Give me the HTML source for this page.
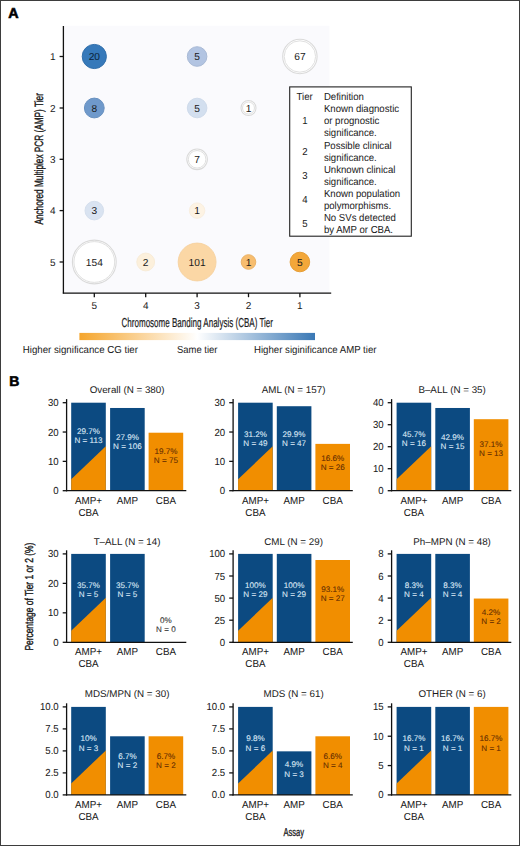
<!DOCTYPE html>
<html><head><meta charset="utf-8"><style>
html,body{margin:0;padding:0;background:#fff;width:520px;height:846px;overflow:hidden}
svg{display:block;font-family:"Liberation Sans", sans-serif;text-rendering:geometricPrecision}
</style></head><body>
<svg width="520" height="846" viewBox="0 0 520 846">
<text x="8.20" y="17.90" font-size="14.3" text-anchor="start" fill="#000" font-weight="bold" stroke="#000" stroke-width="0.6" >A</text>
<rect x="63.40" y="25.80" width="266.00" height="267.00" fill="#fafafd"/>
<circle cx="94.3" cy="56.5" r="12.10" fill="#3679ba" stroke="#316fab" stroke-width="1"/>
<text x="94.30" y="60.10" font-size="10.2" text-anchor="middle" fill="#0a1f38" font-weight="normal" >20</text>
<circle cx="197.1" cy="56.5" r="9.80" fill="#b2c4e2" stroke="#a9bad6" stroke-width="1"/>
<text x="197.10" y="60.10" font-size="10.2" text-anchor="middle" fill="#1a1a1a" font-weight="normal" >5</text>
<circle cx="299.9" cy="56.5" r="17.20" fill="#ffffff" stroke="#dadada" stroke-width="1.1"/>
<circle cx="299.9" cy="56.5" r="15.70" fill="none" stroke="#e0e0e0" stroke-width="1.0"/>
<text x="299.90" y="60.10" font-size="10.2" text-anchor="middle" fill="#222" font-weight="normal" >67</text>
<circle cx="94.3" cy="108.0" r="9.90" fill="#6f99cb" stroke="#6991c0" stroke-width="1"/>
<text x="94.30" y="111.60" font-size="10.2" text-anchor="middle" fill="#1a1a1a" font-weight="normal" >8</text>
<circle cx="197.1" cy="108.0" r="9.80" fill="#d3dfef" stroke="#cfdbeb" stroke-width="1"/>
<text x="197.10" y="111.60" font-size="10.2" text-anchor="middle" fill="#1a1a1a" font-weight="normal" >5</text>
<circle cx="248.5" cy="108.0" r="7.50" fill="#ffffff" stroke="#dadada" stroke-width="1.1"/>
<circle cx="248.5" cy="108.0" r="6.00" fill="none" stroke="#e0e0e0" stroke-width="1.0"/>
<text x="248.50" y="111.60" font-size="10.2" text-anchor="middle" fill="#222" font-weight="normal" >1</text>
<circle cx="197.1" cy="159.3" r="10.30" fill="#ffffff" stroke="#dadada" stroke-width="1.1"/>
<circle cx="197.1" cy="159.3" r="8.80" fill="none" stroke="#e0e0e0" stroke-width="1.0"/>
<text x="197.10" y="162.90" font-size="10.2" text-anchor="middle" fill="#222" font-weight="normal" >7</text>
<circle cx="94.3" cy="210.6" r="9.30" fill="#d9e3f1" stroke="#d5dfed" stroke-width="1"/>
<text x="94.30" y="214.20" font-size="10.2" text-anchor="middle" fill="#1a1a1a" font-weight="normal" >3</text>
<circle cx="197.1" cy="210.6" r="7.70" fill="#fdf3e4" stroke="#f9efe0" stroke-width="1"/>
<text x="197.10" y="214.20" font-size="10.2" text-anchor="middle" fill="#1a1a1a" font-weight="normal" >1</text>
<circle cx="94.3" cy="262.0" r="21.90" fill="#ffffff" stroke="#dadada" stroke-width="1.1"/>
<circle cx="94.3" cy="262.0" r="20.40" fill="none" stroke="#e0e0e0" stroke-width="1.0"/>
<text x="94.30" y="265.60" font-size="10.2" text-anchor="middle" fill="#222" font-weight="normal" >154</text>
<circle cx="145.7" cy="262.0" r="8.90" fill="#fcf0dc" stroke="#f8ecd8" stroke-width="1"/>
<text x="145.70" y="265.60" font-size="10.2" text-anchor="middle" fill="#1a1a1a" font-weight="normal" >2</text>
<circle cx="197.1" cy="262.0" r="18.90" fill="#fbd7a5" stroke="#f7d3a2" stroke-width="1"/>
<text x="197.10" y="265.60" font-size="10.2" text-anchor="middle" fill="#1a1a1a" font-weight="normal" >101</text>
<circle cx="248.5" cy="262.0" r="7.30" fill="#f7bd6f" stroke="#eab369" stroke-width="1"/>
<text x="248.50" y="265.60" font-size="10.2" text-anchor="middle" fill="#1a1a1a" font-weight="normal" >1</text>
<circle cx="299.9" cy="262.0" r="9.80" fill="#f3a739" stroke="#e69e36" stroke-width="1"/>
<text x="299.90" y="265.60" font-size="10.2" text-anchor="middle" fill="#1a1a1a" font-weight="normal" >5</text>
<line x1="63.40" y1="26.00" x2="63.40" y2="293.60" stroke="#111" stroke-width="1.3"/>
<line x1="62.80" y1="293.20" x2="331.20" y2="293.20" stroke="#111" stroke-width="1.2"/>
<line x1="59.60" y1="56.50" x2="63.40" y2="56.50" stroke="#111" stroke-width="1.3"/>
<text x="52.80" y="60.00" font-size="10" text-anchor="middle" fill="#1a1a1a" font-weight="normal" >1</text>
<line x1="59.60" y1="108.00" x2="63.40" y2="108.00" stroke="#111" stroke-width="1.3"/>
<text x="52.80" y="111.50" font-size="10" text-anchor="middle" fill="#1a1a1a" font-weight="normal" >2</text>
<line x1="59.60" y1="159.30" x2="63.40" y2="159.30" stroke="#111" stroke-width="1.3"/>
<text x="52.80" y="162.80" font-size="10" text-anchor="middle" fill="#1a1a1a" font-weight="normal" >3</text>
<line x1="59.60" y1="210.60" x2="63.40" y2="210.60" stroke="#111" stroke-width="1.3"/>
<text x="52.80" y="214.10" font-size="10" text-anchor="middle" fill="#1a1a1a" font-weight="normal" >4</text>
<line x1="59.60" y1="262.00" x2="63.40" y2="262.00" stroke="#111" stroke-width="1.3"/>
<text x="52.80" y="265.50" font-size="10" text-anchor="middle" fill="#1a1a1a" font-weight="normal" >5</text>
<line x1="94.30" y1="293.00" x2="94.30" y2="297.20" stroke="#111" stroke-width="1.3"/>
<text x="94.30" y="309.40" font-size="10" text-anchor="middle" fill="#1a1a1a" font-weight="normal" >5</text>
<line x1="145.70" y1="293.00" x2="145.70" y2="297.20" stroke="#111" stroke-width="1.3"/>
<text x="145.70" y="309.40" font-size="10" text-anchor="middle" fill="#1a1a1a" font-weight="normal" >4</text>
<line x1="197.10" y1="293.00" x2="197.10" y2="297.20" stroke="#111" stroke-width="1.3"/>
<text x="197.10" y="309.40" font-size="10" text-anchor="middle" fill="#1a1a1a" font-weight="normal" >3</text>
<line x1="248.50" y1="293.00" x2="248.50" y2="297.20" stroke="#111" stroke-width="1.3"/>
<text x="248.50" y="309.40" font-size="10" text-anchor="middle" fill="#1a1a1a" font-weight="normal" >2</text>
<line x1="299.90" y1="293.00" x2="299.90" y2="297.20" stroke="#111" stroke-width="1.3"/>
<text x="299.90" y="309.40" font-size="10" text-anchor="middle" fill="#1a1a1a" font-weight="normal" >1</text>
<text x="121.50" y="327.20" font-size="13" text-anchor="start" fill="#1a1a1a" font-weight="normal" stroke="#1a1a1a" stroke-width="0.2" textLength="151.5" lengthAdjust="spacingAndGlyphs">Chromosome Banding Analysis (CBA) Tier</text>
<text x="0" y="0" font-size="12" fill="#1a1a1a" stroke="#1a1a1a" stroke-width="0.4" transform="translate(42.6,224.6) rotate(-90)" textLength="131.5" lengthAdjust="spacingAndGlyphs">Anchored Multiplex PCR (AMP) Tier</text>
<rect x="289.7" y="86.9" width="121.6" height="149.3" fill="#fff" stroke="#222" stroke-width="1.1"/>
<text x="0" y="0" transform="translate(323.90,100.30) scale(1.0,1.06)" font-size="9.6" text-anchor="start" fill="#1a1a1a" font-weight="normal" stroke="#1a1a1a" stroke-width="0.02" >Definition</text>
<text x="0" y="0" transform="translate(323.90,112.36) scale(1.0,1.06)" font-size="9.6" text-anchor="start" fill="#1a1a1a" font-weight="normal" stroke="#1a1a1a" stroke-width="0.02" >Known diagnostic</text>
<text x="0" y="0" transform="translate(323.90,124.42) scale(1.0,1.06)" font-size="9.6" text-anchor="start" fill="#1a1a1a" font-weight="normal" stroke="#1a1a1a" stroke-width="0.02" >or prognostic</text>
<text x="0" y="0" transform="translate(323.90,136.48) scale(1.0,1.06)" font-size="9.6" text-anchor="start" fill="#1a1a1a" font-weight="normal" stroke="#1a1a1a" stroke-width="0.02" >significance.</text>
<text x="0" y="0" transform="translate(323.90,148.54) scale(1.0,1.06)" font-size="9.6" text-anchor="start" fill="#1a1a1a" font-weight="normal" stroke="#1a1a1a" stroke-width="0.02" >Possible clinical</text>
<text x="0" y="0" transform="translate(323.90,160.60) scale(1.0,1.06)" font-size="9.6" text-anchor="start" fill="#1a1a1a" font-weight="normal" stroke="#1a1a1a" stroke-width="0.02" >significance.</text>
<text x="0" y="0" transform="translate(323.90,172.66) scale(1.0,1.06)" font-size="9.6" text-anchor="start" fill="#1a1a1a" font-weight="normal" stroke="#1a1a1a" stroke-width="0.02" >Unknown clinical</text>
<text x="0" y="0" transform="translate(323.90,184.72) scale(1.0,1.06)" font-size="9.6" text-anchor="start" fill="#1a1a1a" font-weight="normal" stroke="#1a1a1a" stroke-width="0.02" >significance.</text>
<text x="0" y="0" transform="translate(323.90,196.78) scale(1.0,1.06)" font-size="9.6" text-anchor="start" fill="#1a1a1a" font-weight="normal" stroke="#1a1a1a" stroke-width="0.02" >Known population</text>
<text x="0" y="0" transform="translate(323.90,208.84) scale(1.0,1.06)" font-size="9.6" text-anchor="start" fill="#1a1a1a" font-weight="normal" stroke="#1a1a1a" stroke-width="0.02" >polymorphisms.</text>
<text x="0" y="0" transform="translate(323.90,220.90) scale(1.0,1.06)" font-size="9.6" text-anchor="start" fill="#1a1a1a" font-weight="normal" stroke="#1a1a1a" stroke-width="0.02" >No SVs detected</text>
<text x="0" y="0" transform="translate(323.90,232.96) scale(1.0,1.06)" font-size="9.6" text-anchor="start" fill="#1a1a1a" font-weight="normal" stroke="#1a1a1a" stroke-width="0.02" >by AMP or CBA.</text>
<text x="0" y="0" transform="translate(296.60,100.30) scale(1.0,1.06)" font-size="9.6" text-anchor="start" fill="#1a1a1a" font-weight="normal" stroke="#1a1a1a" stroke-width="0.02" >Tier</text>
<text x="0" y="0" transform="translate(304.80,124.42) scale(1.0,1.06)" font-size="9.6" text-anchor="middle" fill="#1a1a1a" font-weight="normal" stroke="#1a1a1a" stroke-width="0.02" >1</text>
<text x="0" y="0" transform="translate(304.80,154.57) scale(1.0,1.06)" font-size="9.6" text-anchor="middle" fill="#1a1a1a" font-weight="normal" stroke="#1a1a1a" stroke-width="0.02" >2</text>
<text x="0" y="0" transform="translate(304.80,178.69) scale(1.0,1.06)" font-size="9.6" text-anchor="middle" fill="#1a1a1a" font-weight="normal" stroke="#1a1a1a" stroke-width="0.02" >3</text>
<text x="0" y="0" transform="translate(304.80,202.81) scale(1.0,1.06)" font-size="9.6" text-anchor="middle" fill="#1a1a1a" font-weight="normal" stroke="#1a1a1a" stroke-width="0.02" >4</text>
<text x="0" y="0" transform="translate(304.80,226.93) scale(1.0,1.06)" font-size="9.6" text-anchor="middle" fill="#1a1a1a" font-weight="normal" stroke="#1a1a1a" stroke-width="0.02" >5</text>
<defs><linearGradient id="gb" x1="0" x2="1" y1="0" y2="0"><stop offset="0" stop-color="#f5a52c"/><stop offset="0.5" stop-color="#ffffff"/><stop offset="1" stop-color="#3a78b5"/></linearGradient></defs>
<rect x="79.40" y="332.90" width="235.60" height="7.20" fill="url(#gb)"/>
<text x="22.80" y="352.70" font-size="10.2" text-anchor="start" fill="#1a1a1a" font-weight="normal" textLength="115.1" lengthAdjust="spacingAndGlyphs">Higher significance CG tier</text>
<text x="177.00" y="352.70" font-size="10.2" text-anchor="start" fill="#1a1a1a" font-weight="normal" textLength="40.4" lengthAdjust="spacingAndGlyphs">Same tier</text>
<text x="254.00" y="352.70" font-size="10.2" text-anchor="start" fill="#1a1a1a" font-weight="normal" textLength="122.5" lengthAdjust="spacingAndGlyphs">Higher siginificance AMP tier</text>
<text x="9.20" y="386.30" font-size="14.0" text-anchor="start" fill="#000" font-weight="bold" stroke="#000" stroke-width="0.6" >B</text>
<rect x="71.20" y="402.70" width="34.60" height="88.00" fill="#0c4a81"/>
<polygon points="71.20,479.26 105.80,446.26 105.80,490.70 71.20,490.70" fill="#f18e00"/>
<text x="88.50" y="433.60" font-size="8.1" text-anchor="middle" fill="#dbe7f5" font-weight="normal" stroke="#dbe7f5" stroke-width="0.1" >29.7%</text>
<text x="88.50" y="442.60" font-size="8.1" text-anchor="middle" fill="#dbe7f5" font-weight="normal" stroke="#dbe7f5" stroke-width="0.1" >N = 113</text>
<rect x="110.10" y="407.98" width="34.60" height="82.72" fill="#0c4a81"/>
<text x="127.40" y="440.00" font-size="8.1" text-anchor="middle" fill="#dbe7f5" font-weight="normal" stroke="#dbe7f5" stroke-width="0.1" >27.9%</text>
<text x="127.40" y="448.90" font-size="8.1" text-anchor="middle" fill="#dbe7f5" font-weight="normal" stroke="#dbe7f5" stroke-width="0.1" >N = 106</text>
<rect x="148.60" y="432.71" width="34.60" height="57.99" fill="#f18e00"/>
<text x="165.90" y="453.90" font-size="8.1" text-anchor="middle" fill="#632c00" font-weight="normal" stroke="#632c00" stroke-width="0.08" >19.7%</text>
<text x="165.90" y="462.70" font-size="8.1" text-anchor="middle" fill="#632c00" font-weight="normal" stroke="#632c00" stroke-width="0.08" >N = 75</text>
<line x1="66.60" y1="399.10" x2="66.60" y2="491.30" stroke="#111" stroke-width="1.3"/>
<line x1="66.00" y1="490.70" x2="186.30" y2="490.70" stroke="#111" stroke-width="1.3"/>
<line x1="62.70" y1="490.70" x2="66.60" y2="490.70" stroke="#111" stroke-width="1.3"/>
<text x="0" y="0" transform="translate(58.70,494.20) scale(1.0,1.06)" font-size="9.6" text-anchor="end" fill="#1a1a1a" font-weight="normal" stroke="#1a1a1a" stroke-width="0.05" >0</text>
<line x1="62.70" y1="461.37" x2="66.60" y2="461.37" stroke="#111" stroke-width="1.3"/>
<text x="0" y="0" transform="translate(58.70,464.87) scale(1.0,1.06)" font-size="9.6" text-anchor="end" fill="#1a1a1a" font-weight="normal" stroke="#1a1a1a" stroke-width="0.05" >10</text>
<line x1="62.70" y1="432.03" x2="66.60" y2="432.03" stroke="#111" stroke-width="1.3"/>
<text x="0" y="0" transform="translate(58.70,435.53) scale(1.0,1.06)" font-size="9.6" text-anchor="end" fill="#1a1a1a" font-weight="normal" stroke="#1a1a1a" stroke-width="0.05" >20</text>
<line x1="62.70" y1="402.70" x2="66.60" y2="402.70" stroke="#111" stroke-width="1.3"/>
<text x="0" y="0" transform="translate(58.70,406.20) scale(1.0,1.06)" font-size="9.6" text-anchor="end" fill="#1a1a1a" font-weight="normal" stroke="#1a1a1a" stroke-width="0.05" >30</text>
<text x="0" y="0" transform="translate(88.50,503.60) scale(1.0,1.03)" font-size="9.8" text-anchor="middle" fill="#1a1a1a" font-weight="normal" stroke="#1a1a1a" stroke-width="0.05" >AMP+</text>
<text x="0" y="0" transform="translate(127.40,503.60) scale(1.0,1.03)" font-size="9.8" text-anchor="middle" fill="#1a1a1a" font-weight="normal" stroke="#1a1a1a" stroke-width="0.05" >AMP</text>
<text x="0" y="0" transform="translate(165.90,503.60) scale(1.0,1.03)" font-size="9.8" text-anchor="middle" fill="#1a1a1a" font-weight="normal" stroke="#1a1a1a" stroke-width="0.05" >CBA</text>
<text x="0" y="0" transform="translate(88.50,515.50) scale(1.0,1.03)" font-size="9.8" text-anchor="middle" fill="#1a1a1a" font-weight="normal" stroke="#1a1a1a" stroke-width="0.05" >CBA</text>
<text x="127.10" y="392.70" font-size="9.8" text-anchor="middle" fill="#1a1a1a" font-weight="normal" >Overall (N = 380)</text>
<rect x="238.10" y="402.70" width="34.60" height="88.00" fill="#0c4a81"/>
<polygon points="238.10,479.26 272.70,446.26 272.70,490.70 238.10,490.70" fill="#f18e00"/>
<text x="255.40" y="436.70" font-size="8.1" text-anchor="middle" fill="#dbe7f5" font-weight="normal" stroke="#dbe7f5" stroke-width="0.1" >31.2%</text>
<text x="255.40" y="446.20" font-size="8.1" text-anchor="middle" fill="#dbe7f5" font-weight="normal" stroke="#dbe7f5" stroke-width="0.1" >N = 49</text>
<rect x="276.80" y="406.22" width="34.60" height="84.48" fill="#0c4a81"/>
<text x="294.10" y="436.70" font-size="8.1" text-anchor="middle" fill="#dbe7f5" font-weight="normal" stroke="#dbe7f5" stroke-width="0.1" >29.9%</text>
<text x="294.10" y="446.20" font-size="8.1" text-anchor="middle" fill="#dbe7f5" font-weight="normal" stroke="#dbe7f5" stroke-width="0.1" >N = 47</text>
<rect x="315.40" y="443.88" width="34.60" height="46.82" fill="#f18e00"/>
<text x="332.70" y="460.90" font-size="8.1" text-anchor="middle" fill="#632c00" font-weight="normal" stroke="#632c00" stroke-width="0.08" >16.6%</text>
<text x="332.70" y="470.40" font-size="8.1" text-anchor="middle" fill="#632c00" font-weight="normal" stroke="#632c00" stroke-width="0.08" >N = 26</text>
<line x1="233.10" y1="399.10" x2="233.10" y2="491.30" stroke="#111" stroke-width="1.3"/>
<line x1="232.50" y1="490.70" x2="352.80" y2="490.70" stroke="#111" stroke-width="1.3"/>
<line x1="229.20" y1="490.70" x2="233.10" y2="490.70" stroke="#111" stroke-width="1.3"/>
<text x="0" y="0" transform="translate(225.20,494.20) scale(1.0,1.06)" font-size="9.6" text-anchor="end" fill="#1a1a1a" font-weight="normal" stroke="#1a1a1a" stroke-width="0.05" >0</text>
<line x1="229.20" y1="461.37" x2="233.10" y2="461.37" stroke="#111" stroke-width="1.3"/>
<text x="0" y="0" transform="translate(225.20,464.87) scale(1.0,1.06)" font-size="9.6" text-anchor="end" fill="#1a1a1a" font-weight="normal" stroke="#1a1a1a" stroke-width="0.05" >10</text>
<line x1="229.20" y1="432.03" x2="233.10" y2="432.03" stroke="#111" stroke-width="1.3"/>
<text x="0" y="0" transform="translate(225.20,435.53) scale(1.0,1.06)" font-size="9.6" text-anchor="end" fill="#1a1a1a" font-weight="normal" stroke="#1a1a1a" stroke-width="0.05" >20</text>
<line x1="229.20" y1="402.70" x2="233.10" y2="402.70" stroke="#111" stroke-width="1.3"/>
<text x="0" y="0" transform="translate(225.20,406.20) scale(1.0,1.06)" font-size="9.6" text-anchor="end" fill="#1a1a1a" font-weight="normal" stroke="#1a1a1a" stroke-width="0.05" >30</text>
<text x="0" y="0" transform="translate(255.40,503.60) scale(1.0,1.03)" font-size="9.8" text-anchor="middle" fill="#1a1a1a" font-weight="normal" stroke="#1a1a1a" stroke-width="0.05" >AMP+</text>
<text x="0" y="0" transform="translate(294.10,503.60) scale(1.0,1.03)" font-size="9.8" text-anchor="middle" fill="#1a1a1a" font-weight="normal" stroke="#1a1a1a" stroke-width="0.05" >AMP</text>
<text x="0" y="0" transform="translate(332.70,503.60) scale(1.0,1.03)" font-size="9.8" text-anchor="middle" fill="#1a1a1a" font-weight="normal" stroke="#1a1a1a" stroke-width="0.05" >CBA</text>
<text x="0" y="0" transform="translate(255.40,515.50) scale(1.0,1.03)" font-size="9.8" text-anchor="middle" fill="#1a1a1a" font-weight="normal" stroke="#1a1a1a" stroke-width="0.05" >CBA</text>
<text x="293.60" y="392.70" font-size="9.8" text-anchor="middle" fill="#1a1a1a" font-weight="normal" >AML (N = 157)</text>
<rect x="396.60" y="402.70" width="34.60" height="88.00" fill="#0c4a81"/>
<polygon points="396.60,479.26 431.20,446.26 431.20,490.70 396.60,490.70" fill="#f18e00"/>
<text x="413.90" y="436.70" font-size="8.1" text-anchor="middle" fill="#dbe7f5" font-weight="normal" stroke="#dbe7f5" stroke-width="0.1" >45.7%</text>
<text x="413.90" y="446.20" font-size="8.1" text-anchor="middle" fill="#dbe7f5" font-weight="normal" stroke="#dbe7f5" stroke-width="0.1" >N = 16</text>
<rect x="435.30" y="407.98" width="34.60" height="82.72" fill="#0c4a81"/>
<text x="452.60" y="440.10" font-size="8.1" text-anchor="middle" fill="#dbe7f5" font-weight="normal" stroke="#dbe7f5" stroke-width="0.1" >42.9%</text>
<text x="452.60" y="449.20" font-size="8.1" text-anchor="middle" fill="#dbe7f5" font-weight="normal" stroke="#dbe7f5" stroke-width="0.1" >N = 15</text>
<rect x="473.80" y="419.20" width="34.60" height="71.50" fill="#f18e00"/>
<text x="491.10" y="447.00" font-size="8.1" text-anchor="middle" fill="#632c00" font-weight="normal" stroke="#632c00" stroke-width="0.08" >37.1%</text>
<text x="491.10" y="456.10" font-size="8.1" text-anchor="middle" fill="#632c00" font-weight="normal" stroke="#632c00" stroke-width="0.08" >N = 13</text>
<line x1="391.60" y1="399.10" x2="391.60" y2="491.30" stroke="#111" stroke-width="1.3"/>
<line x1="391.00" y1="490.70" x2="511.30" y2="490.70" stroke="#111" stroke-width="1.3"/>
<line x1="387.70" y1="490.70" x2="391.60" y2="490.70" stroke="#111" stroke-width="1.3"/>
<text x="0" y="0" transform="translate(383.70,494.20) scale(1.0,1.06)" font-size="9.6" text-anchor="end" fill="#1a1a1a" font-weight="normal" stroke="#1a1a1a" stroke-width="0.05" >0</text>
<line x1="387.70" y1="468.70" x2="391.60" y2="468.70" stroke="#111" stroke-width="1.3"/>
<text x="0" y="0" transform="translate(383.70,472.20) scale(1.0,1.06)" font-size="9.6" text-anchor="end" fill="#1a1a1a" font-weight="normal" stroke="#1a1a1a" stroke-width="0.05" >10</text>
<line x1="387.70" y1="446.70" x2="391.60" y2="446.70" stroke="#111" stroke-width="1.3"/>
<text x="0" y="0" transform="translate(383.70,450.20) scale(1.0,1.06)" font-size="9.6" text-anchor="end" fill="#1a1a1a" font-weight="normal" stroke="#1a1a1a" stroke-width="0.05" >20</text>
<line x1="387.70" y1="424.70" x2="391.60" y2="424.70" stroke="#111" stroke-width="1.3"/>
<text x="0" y="0" transform="translate(383.70,428.20) scale(1.0,1.06)" font-size="9.6" text-anchor="end" fill="#1a1a1a" font-weight="normal" stroke="#1a1a1a" stroke-width="0.05" >30</text>
<line x1="387.70" y1="402.70" x2="391.60" y2="402.70" stroke="#111" stroke-width="1.3"/>
<text x="0" y="0" transform="translate(383.70,406.20) scale(1.0,1.06)" font-size="9.6" text-anchor="end" fill="#1a1a1a" font-weight="normal" stroke="#1a1a1a" stroke-width="0.05" >40</text>
<text x="0" y="0" transform="translate(413.90,503.60) scale(1.0,1.03)" font-size="9.8" text-anchor="middle" fill="#1a1a1a" font-weight="normal" stroke="#1a1a1a" stroke-width="0.05" >AMP+</text>
<text x="0" y="0" transform="translate(452.60,503.60) scale(1.0,1.03)" font-size="9.8" text-anchor="middle" fill="#1a1a1a" font-weight="normal" stroke="#1a1a1a" stroke-width="0.05" >AMP</text>
<text x="0" y="0" transform="translate(491.10,503.60) scale(1.0,1.03)" font-size="9.8" text-anchor="middle" fill="#1a1a1a" font-weight="normal" stroke="#1a1a1a" stroke-width="0.05" >CBA</text>
<text x="0" y="0" transform="translate(413.90,515.50) scale(1.0,1.03)" font-size="9.8" text-anchor="middle" fill="#1a1a1a" font-weight="normal" stroke="#1a1a1a" stroke-width="0.05" >CBA</text>
<text x="452.10" y="392.70" font-size="9.8" text-anchor="middle" fill="#1a1a1a" font-weight="normal" >B–ALL (N = 35)</text>
<rect x="71.20" y="553.90" width="34.60" height="88.40" fill="#0c4a81"/>
<polygon points="71.20,630.81 105.80,597.66 105.80,642.30 71.20,642.30" fill="#f18e00"/>
<text x="88.50" y="588.30" font-size="8.1" text-anchor="middle" fill="#dbe7f5" font-weight="normal" stroke="#dbe7f5" stroke-width="0.1" >35.7%</text>
<text x="88.50" y="597.30" font-size="8.1" text-anchor="middle" fill="#dbe7f5" font-weight="normal" stroke="#dbe7f5" stroke-width="0.1" >N = 5</text>
<rect x="110.10" y="553.90" width="34.60" height="88.40" fill="#0c4a81"/>
<text x="127.40" y="588.30" font-size="8.1" text-anchor="middle" fill="#dbe7f5" font-weight="normal" stroke="#dbe7f5" stroke-width="0.1" >35.7%</text>
<text x="127.40" y="597.30" font-size="8.1" text-anchor="middle" fill="#dbe7f5" font-weight="normal" stroke="#dbe7f5" stroke-width="0.1" >N = 5</text>
<text x="165.90" y="622.70" font-size="8.1" text-anchor="middle" fill="#333" font-weight="normal" stroke="#333" stroke-width="0.1" >0%</text>
<text x="165.90" y="632.30" font-size="8.1" text-anchor="middle" fill="#333" font-weight="normal" stroke="#333" stroke-width="0.1" >N = 0</text>
<line x1="66.60" y1="550.30" x2="66.60" y2="642.90" stroke="#111" stroke-width="1.3"/>
<line x1="66.00" y1="642.30" x2="186.30" y2="642.30" stroke="#111" stroke-width="1.3"/>
<line x1="62.70" y1="642.30" x2="66.60" y2="642.30" stroke="#111" stroke-width="1.3"/>
<text x="0" y="0" transform="translate(58.70,645.80) scale(1.0,1.06)" font-size="9.6" text-anchor="end" fill="#1a1a1a" font-weight="normal" stroke="#1a1a1a" stroke-width="0.05" >0</text>
<line x1="62.70" y1="612.83" x2="66.60" y2="612.83" stroke="#111" stroke-width="1.3"/>
<text x="0" y="0" transform="translate(58.70,616.33) scale(1.0,1.06)" font-size="9.6" text-anchor="end" fill="#1a1a1a" font-weight="normal" stroke="#1a1a1a" stroke-width="0.05" >10</text>
<line x1="62.70" y1="583.37" x2="66.60" y2="583.37" stroke="#111" stroke-width="1.3"/>
<text x="0" y="0" transform="translate(58.70,586.87) scale(1.0,1.06)" font-size="9.6" text-anchor="end" fill="#1a1a1a" font-weight="normal" stroke="#1a1a1a" stroke-width="0.05" >20</text>
<line x1="62.70" y1="553.90" x2="66.60" y2="553.90" stroke="#111" stroke-width="1.3"/>
<text x="0" y="0" transform="translate(58.70,557.40) scale(1.0,1.06)" font-size="9.6" text-anchor="end" fill="#1a1a1a" font-weight="normal" stroke="#1a1a1a" stroke-width="0.05" >30</text>
<text x="0" y="0" transform="translate(88.50,655.20) scale(1.0,1.03)" font-size="9.8" text-anchor="middle" fill="#1a1a1a" font-weight="normal" stroke="#1a1a1a" stroke-width="0.05" >AMP+</text>
<text x="0" y="0" transform="translate(127.40,655.20) scale(1.0,1.03)" font-size="9.8" text-anchor="middle" fill="#1a1a1a" font-weight="normal" stroke="#1a1a1a" stroke-width="0.05" >AMP</text>
<text x="0" y="0" transform="translate(165.90,655.20) scale(1.0,1.03)" font-size="9.8" text-anchor="middle" fill="#1a1a1a" font-weight="normal" stroke="#1a1a1a" stroke-width="0.05" >CBA</text>
<text x="0" y="0" transform="translate(88.50,667.10) scale(1.0,1.03)" font-size="9.8" text-anchor="middle" fill="#1a1a1a" font-weight="normal" stroke="#1a1a1a" stroke-width="0.05" >CBA</text>
<text x="127.10" y="545.10" font-size="9.8" text-anchor="middle" fill="#1a1a1a" font-weight="normal" >T–ALL (N = 14)</text>
<rect x="238.10" y="553.90" width="34.60" height="88.40" fill="#0c4a81"/>
<polygon points="238.10,630.81 272.70,597.66 272.70,642.30 238.10,642.30" fill="#f18e00"/>
<text x="255.40" y="588.30" font-size="8.1" text-anchor="middle" fill="#dbe7f5" font-weight="normal" stroke="#dbe7f5" stroke-width="0.1" >100%</text>
<text x="255.40" y="597.30" font-size="8.1" text-anchor="middle" fill="#dbe7f5" font-weight="normal" stroke="#dbe7f5" stroke-width="0.1" >N = 29</text>
<rect x="276.80" y="553.90" width="34.60" height="88.40" fill="#0c4a81"/>
<text x="294.10" y="588.30" font-size="8.1" text-anchor="middle" fill="#dbe7f5" font-weight="normal" stroke="#dbe7f5" stroke-width="0.1" >100%</text>
<text x="294.10" y="597.30" font-size="8.1" text-anchor="middle" fill="#dbe7f5" font-weight="normal" stroke="#dbe7f5" stroke-width="0.1" >N = 29</text>
<rect x="315.40" y="560.00" width="34.60" height="82.30" fill="#f18e00"/>
<text x="332.70" y="592.00" font-size="8.1" text-anchor="middle" fill="#632c00" font-weight="normal" stroke="#632c00" stroke-width="0.08" >93.1%</text>
<text x="332.70" y="601.30" font-size="8.1" text-anchor="middle" fill="#632c00" font-weight="normal" stroke="#632c00" stroke-width="0.08" >N = 27</text>
<line x1="233.10" y1="550.30" x2="233.10" y2="642.90" stroke="#111" stroke-width="1.3"/>
<line x1="232.50" y1="642.30" x2="352.80" y2="642.30" stroke="#111" stroke-width="1.3"/>
<line x1="229.20" y1="642.30" x2="233.10" y2="642.30" stroke="#111" stroke-width="1.3"/>
<text x="0" y="0" transform="translate(225.20,645.80) scale(1.0,1.06)" font-size="9.6" text-anchor="end" fill="#1a1a1a" font-weight="normal" stroke="#1a1a1a" stroke-width="0.05" >0</text>
<line x1="229.20" y1="620.20" x2="233.10" y2="620.20" stroke="#111" stroke-width="1.3"/>
<text x="0" y="0" transform="translate(225.20,623.70) scale(1.0,1.06)" font-size="9.6" text-anchor="end" fill="#1a1a1a" font-weight="normal" stroke="#1a1a1a" stroke-width="0.05" >25</text>
<line x1="229.20" y1="598.10" x2="233.10" y2="598.10" stroke="#111" stroke-width="1.3"/>
<text x="0" y="0" transform="translate(225.20,601.60) scale(1.0,1.06)" font-size="9.6" text-anchor="end" fill="#1a1a1a" font-weight="normal" stroke="#1a1a1a" stroke-width="0.05" >50</text>
<line x1="229.20" y1="576.00" x2="233.10" y2="576.00" stroke="#111" stroke-width="1.3"/>
<text x="0" y="0" transform="translate(225.20,579.50) scale(1.0,1.06)" font-size="9.6" text-anchor="end" fill="#1a1a1a" font-weight="normal" stroke="#1a1a1a" stroke-width="0.05" >75</text>
<line x1="229.20" y1="553.90" x2="233.10" y2="553.90" stroke="#111" stroke-width="1.3"/>
<text x="0" y="0" transform="translate(225.20,557.40) scale(1.0,1.06)" font-size="9.6" text-anchor="end" fill="#1a1a1a" font-weight="normal" stroke="#1a1a1a" stroke-width="0.05" >100</text>
<text x="0" y="0" transform="translate(255.40,655.20) scale(1.0,1.03)" font-size="9.8" text-anchor="middle" fill="#1a1a1a" font-weight="normal" stroke="#1a1a1a" stroke-width="0.05" >AMP+</text>
<text x="0" y="0" transform="translate(294.10,655.20) scale(1.0,1.03)" font-size="9.8" text-anchor="middle" fill="#1a1a1a" font-weight="normal" stroke="#1a1a1a" stroke-width="0.05" >AMP</text>
<text x="0" y="0" transform="translate(332.70,655.20) scale(1.0,1.03)" font-size="9.8" text-anchor="middle" fill="#1a1a1a" font-weight="normal" stroke="#1a1a1a" stroke-width="0.05" >CBA</text>
<text x="0" y="0" transform="translate(255.40,667.10) scale(1.0,1.03)" font-size="9.8" text-anchor="middle" fill="#1a1a1a" font-weight="normal" stroke="#1a1a1a" stroke-width="0.05" >CBA</text>
<text x="293.60" y="545.10" font-size="9.8" text-anchor="middle" fill="#1a1a1a" font-weight="normal" >CML (N = 29)</text>
<rect x="396.60" y="553.90" width="34.60" height="88.40" fill="#0c4a81"/>
<polygon points="396.60,630.81 431.20,597.66 431.20,642.30 396.60,642.30" fill="#f18e00"/>
<text x="413.90" y="588.30" font-size="8.1" text-anchor="middle" fill="#dbe7f5" font-weight="normal" stroke="#dbe7f5" stroke-width="0.1" >8.3%</text>
<text x="413.90" y="597.30" font-size="8.1" text-anchor="middle" fill="#dbe7f5" font-weight="normal" stroke="#dbe7f5" stroke-width="0.1" >N = 4</text>
<rect x="435.30" y="553.90" width="34.60" height="88.40" fill="#0c4a81"/>
<text x="452.60" y="588.30" font-size="8.1" text-anchor="middle" fill="#dbe7f5" font-weight="normal" stroke="#dbe7f5" stroke-width="0.1" >8.3%</text>
<text x="452.60" y="597.30" font-size="8.1" text-anchor="middle" fill="#dbe7f5" font-weight="normal" stroke="#dbe7f5" stroke-width="0.1" >N = 4</text>
<rect x="473.80" y="598.54" width="34.60" height="43.76" fill="#f18e00"/>
<text x="491.10" y="615.10" font-size="8.1" text-anchor="middle" fill="#632c00" font-weight="normal" stroke="#632c00" stroke-width="0.08" >4.2%</text>
<text x="491.10" y="623.90" font-size="8.1" text-anchor="middle" fill="#632c00" font-weight="normal" stroke="#632c00" stroke-width="0.08" >N = 2</text>
<line x1="391.60" y1="550.30" x2="391.60" y2="642.90" stroke="#111" stroke-width="1.3"/>
<line x1="391.00" y1="642.30" x2="511.30" y2="642.30" stroke="#111" stroke-width="1.3"/>
<line x1="387.70" y1="642.30" x2="391.60" y2="642.30" stroke="#111" stroke-width="1.3"/>
<text x="0" y="0" transform="translate(383.70,645.80) scale(1.0,1.06)" font-size="9.6" text-anchor="end" fill="#1a1a1a" font-weight="normal" stroke="#1a1a1a" stroke-width="0.05" >0</text>
<line x1="387.70" y1="620.20" x2="391.60" y2="620.20" stroke="#111" stroke-width="1.3"/>
<text x="0" y="0" transform="translate(383.70,623.70) scale(1.0,1.06)" font-size="9.6" text-anchor="end" fill="#1a1a1a" font-weight="normal" stroke="#1a1a1a" stroke-width="0.05" >2</text>
<line x1="387.70" y1="598.10" x2="391.60" y2="598.10" stroke="#111" stroke-width="1.3"/>
<text x="0" y="0" transform="translate(383.70,601.60) scale(1.0,1.06)" font-size="9.6" text-anchor="end" fill="#1a1a1a" font-weight="normal" stroke="#1a1a1a" stroke-width="0.05" >4</text>
<line x1="387.70" y1="576.00" x2="391.60" y2="576.00" stroke="#111" stroke-width="1.3"/>
<text x="0" y="0" transform="translate(383.70,579.50) scale(1.0,1.06)" font-size="9.6" text-anchor="end" fill="#1a1a1a" font-weight="normal" stroke="#1a1a1a" stroke-width="0.05" >6</text>
<line x1="387.70" y1="553.90" x2="391.60" y2="553.90" stroke="#111" stroke-width="1.3"/>
<text x="0" y="0" transform="translate(383.70,557.40) scale(1.0,1.06)" font-size="9.6" text-anchor="end" fill="#1a1a1a" font-weight="normal" stroke="#1a1a1a" stroke-width="0.05" >8</text>
<text x="0" y="0" transform="translate(413.90,655.20) scale(1.0,1.03)" font-size="9.8" text-anchor="middle" fill="#1a1a1a" font-weight="normal" stroke="#1a1a1a" stroke-width="0.05" >AMP+</text>
<text x="0" y="0" transform="translate(452.60,655.20) scale(1.0,1.03)" font-size="9.8" text-anchor="middle" fill="#1a1a1a" font-weight="normal" stroke="#1a1a1a" stroke-width="0.05" >AMP</text>
<text x="0" y="0" transform="translate(491.10,655.20) scale(1.0,1.03)" font-size="9.8" text-anchor="middle" fill="#1a1a1a" font-weight="normal" stroke="#1a1a1a" stroke-width="0.05" >CBA</text>
<text x="0" y="0" transform="translate(413.90,667.10) scale(1.0,1.03)" font-size="9.8" text-anchor="middle" fill="#1a1a1a" font-weight="normal" stroke="#1a1a1a" stroke-width="0.05" >CBA</text>
<text x="452.10" y="545.10" font-size="9.8" text-anchor="middle" fill="#1a1a1a" font-weight="normal" >Ph–MPN (N = 48)</text>
<rect x="71.20" y="706.90" width="34.60" height="88.00" fill="#0c4a81"/>
<polygon points="71.20,783.46 105.80,750.46 105.80,794.90 71.20,794.90" fill="#f18e00"/>
<text x="88.50" y="740.80" font-size="8.1" text-anchor="middle" fill="#dbe7f5" font-weight="normal" stroke="#dbe7f5" stroke-width="0.1" >10%</text>
<text x="88.50" y="750.80" font-size="8.1" text-anchor="middle" fill="#dbe7f5" font-weight="normal" stroke="#dbe7f5" stroke-width="0.1" >N = 3</text>
<rect x="110.10" y="736.29" width="34.60" height="58.61" fill="#0c4a81"/>
<text x="127.40" y="758.60" font-size="8.1" text-anchor="middle" fill="#dbe7f5" font-weight="normal" stroke="#dbe7f5" stroke-width="0.1" >6.7%</text>
<text x="127.40" y="768.10" font-size="8.1" text-anchor="middle" fill="#dbe7f5" font-weight="normal" stroke="#dbe7f5" stroke-width="0.1" >N = 2</text>
<rect x="148.60" y="736.29" width="34.60" height="58.61" fill="#f18e00"/>
<text x="165.90" y="758.60" font-size="8.1" text-anchor="middle" fill="#632c00" font-weight="normal" stroke="#632c00" stroke-width="0.08" >6.7%</text>
<text x="165.90" y="768.10" font-size="8.1" text-anchor="middle" fill="#632c00" font-weight="normal" stroke="#632c00" stroke-width="0.08" >N = 2</text>
<line x1="66.60" y1="703.30" x2="66.60" y2="795.50" stroke="#111" stroke-width="1.3"/>
<line x1="66.00" y1="794.90" x2="186.30" y2="794.90" stroke="#111" stroke-width="1.3"/>
<line x1="62.70" y1="794.90" x2="66.60" y2="794.90" stroke="#111" stroke-width="1.3"/>
<text x="0" y="0" transform="translate(58.70,798.40) scale(1.0,1.06)" font-size="9.6" text-anchor="end" fill="#1a1a1a" font-weight="normal" stroke="#1a1a1a" stroke-width="0.05" >0.0</text>
<line x1="62.70" y1="772.90" x2="66.60" y2="772.90" stroke="#111" stroke-width="1.3"/>
<text x="0" y="0" transform="translate(58.70,776.40) scale(1.0,1.06)" font-size="9.6" text-anchor="end" fill="#1a1a1a" font-weight="normal" stroke="#1a1a1a" stroke-width="0.05" >2.5</text>
<line x1="62.70" y1="750.90" x2="66.60" y2="750.90" stroke="#111" stroke-width="1.3"/>
<text x="0" y="0" transform="translate(58.70,754.40) scale(1.0,1.06)" font-size="9.6" text-anchor="end" fill="#1a1a1a" font-weight="normal" stroke="#1a1a1a" stroke-width="0.05" >5.0</text>
<line x1="62.70" y1="728.90" x2="66.60" y2="728.90" stroke="#111" stroke-width="1.3"/>
<text x="0" y="0" transform="translate(58.70,732.40) scale(1.0,1.06)" font-size="9.6" text-anchor="end" fill="#1a1a1a" font-weight="normal" stroke="#1a1a1a" stroke-width="0.05" >7.5</text>
<line x1="62.70" y1="706.90" x2="66.60" y2="706.90" stroke="#111" stroke-width="1.3"/>
<text x="0" y="0" transform="translate(58.70,710.40) scale(1.0,1.06)" font-size="9.6" text-anchor="end" fill="#1a1a1a" font-weight="normal" stroke="#1a1a1a" stroke-width="0.05" >10.0</text>
<text x="0" y="0" transform="translate(88.50,807.80) scale(1.0,1.03)" font-size="9.8" text-anchor="middle" fill="#1a1a1a" font-weight="normal" stroke="#1a1a1a" stroke-width="0.05" >AMP+</text>
<text x="0" y="0" transform="translate(127.40,807.80) scale(1.0,1.03)" font-size="9.8" text-anchor="middle" fill="#1a1a1a" font-weight="normal" stroke="#1a1a1a" stroke-width="0.05" >AMP</text>
<text x="0" y="0" transform="translate(165.90,807.80) scale(1.0,1.03)" font-size="9.8" text-anchor="middle" fill="#1a1a1a" font-weight="normal" stroke="#1a1a1a" stroke-width="0.05" >CBA</text>
<text x="0" y="0" transform="translate(88.50,819.70) scale(1.0,1.03)" font-size="9.8" text-anchor="middle" fill="#1a1a1a" font-weight="normal" stroke="#1a1a1a" stroke-width="0.05" >CBA</text>
<text x="127.10" y="696.60" font-size="9.8" text-anchor="middle" fill="#1a1a1a" font-weight="normal" >MDS/MPN (N = 30)</text>
<rect x="238.10" y="706.90" width="34.60" height="88.00" fill="#0c4a81"/>
<polygon points="238.10,783.46 272.70,750.46 272.70,794.90 238.10,794.90" fill="#f18e00"/>
<text x="255.40" y="740.80" font-size="8.1" text-anchor="middle" fill="#dbe7f5" font-weight="normal" stroke="#dbe7f5" stroke-width="0.1" >9.8%</text>
<text x="255.40" y="750.80" font-size="8.1" text-anchor="middle" fill="#dbe7f5" font-weight="normal" stroke="#dbe7f5" stroke-width="0.1" >N = 6</text>
<rect x="276.80" y="751.34" width="34.60" height="43.56" fill="#0c4a81"/>
<text x="294.10" y="766.70" font-size="8.1" text-anchor="middle" fill="#dbe7f5" font-weight="normal" stroke="#dbe7f5" stroke-width="0.1" >4.9%</text>
<text x="294.10" y="776.70" font-size="8.1" text-anchor="middle" fill="#dbe7f5" font-weight="normal" stroke="#dbe7f5" stroke-width="0.1" >N = 3</text>
<rect x="315.40" y="736.29" width="34.60" height="58.61" fill="#f18e00"/>
<text x="332.70" y="758.60" font-size="8.1" text-anchor="middle" fill="#632c00" font-weight="normal" stroke="#632c00" stroke-width="0.08" >6.6%</text>
<text x="332.70" y="768.10" font-size="8.1" text-anchor="middle" fill="#632c00" font-weight="normal" stroke="#632c00" stroke-width="0.08" >N = 4</text>
<line x1="233.10" y1="703.30" x2="233.10" y2="795.50" stroke="#111" stroke-width="1.3"/>
<line x1="232.50" y1="794.90" x2="352.80" y2="794.90" stroke="#111" stroke-width="1.3"/>
<line x1="229.20" y1="794.90" x2="233.10" y2="794.90" stroke="#111" stroke-width="1.3"/>
<text x="0" y="0" transform="translate(225.20,798.40) scale(1.0,1.06)" font-size="9.6" text-anchor="end" fill="#1a1a1a" font-weight="normal" stroke="#1a1a1a" stroke-width="0.05" >0.0</text>
<line x1="229.20" y1="772.90" x2="233.10" y2="772.90" stroke="#111" stroke-width="1.3"/>
<text x="0" y="0" transform="translate(225.20,776.40) scale(1.0,1.06)" font-size="9.6" text-anchor="end" fill="#1a1a1a" font-weight="normal" stroke="#1a1a1a" stroke-width="0.05" >2.5</text>
<line x1="229.20" y1="750.90" x2="233.10" y2="750.90" stroke="#111" stroke-width="1.3"/>
<text x="0" y="0" transform="translate(225.20,754.40) scale(1.0,1.06)" font-size="9.6" text-anchor="end" fill="#1a1a1a" font-weight="normal" stroke="#1a1a1a" stroke-width="0.05" >5.0</text>
<line x1="229.20" y1="728.90" x2="233.10" y2="728.90" stroke="#111" stroke-width="1.3"/>
<text x="0" y="0" transform="translate(225.20,732.40) scale(1.0,1.06)" font-size="9.6" text-anchor="end" fill="#1a1a1a" font-weight="normal" stroke="#1a1a1a" stroke-width="0.05" >7.5</text>
<line x1="229.20" y1="706.90" x2="233.10" y2="706.90" stroke="#111" stroke-width="1.3"/>
<text x="0" y="0" transform="translate(225.20,710.40) scale(1.0,1.06)" font-size="9.6" text-anchor="end" fill="#1a1a1a" font-weight="normal" stroke="#1a1a1a" stroke-width="0.05" >10.0</text>
<text x="0" y="0" transform="translate(255.40,807.80) scale(1.0,1.03)" font-size="9.8" text-anchor="middle" fill="#1a1a1a" font-weight="normal" stroke="#1a1a1a" stroke-width="0.05" >AMP+</text>
<text x="0" y="0" transform="translate(294.10,807.80) scale(1.0,1.03)" font-size="9.8" text-anchor="middle" fill="#1a1a1a" font-weight="normal" stroke="#1a1a1a" stroke-width="0.05" >AMP</text>
<text x="0" y="0" transform="translate(332.70,807.80) scale(1.0,1.03)" font-size="9.8" text-anchor="middle" fill="#1a1a1a" font-weight="normal" stroke="#1a1a1a" stroke-width="0.05" >CBA</text>
<text x="0" y="0" transform="translate(255.40,819.70) scale(1.0,1.03)" font-size="9.8" text-anchor="middle" fill="#1a1a1a" font-weight="normal" stroke="#1a1a1a" stroke-width="0.05" >CBA</text>
<text x="293.60" y="696.60" font-size="9.8" text-anchor="middle" fill="#1a1a1a" font-weight="normal" >MDS (N = 61)</text>
<rect x="396.60" y="706.90" width="34.60" height="88.00" fill="#0c4a81"/>
<polygon points="396.60,783.46 431.20,750.46 431.20,794.90 396.60,794.90" fill="#f18e00"/>
<text x="413.90" y="740.80" font-size="8.1" text-anchor="middle" fill="#dbe7f5" font-weight="normal" stroke="#dbe7f5" stroke-width="0.1" >16.7%</text>
<text x="413.90" y="750.80" font-size="8.1" text-anchor="middle" fill="#dbe7f5" font-weight="normal" stroke="#dbe7f5" stroke-width="0.1" >N = 1</text>
<rect x="435.30" y="706.90" width="34.60" height="88.00" fill="#0c4a81"/>
<text x="452.60" y="740.80" font-size="8.1" text-anchor="middle" fill="#dbe7f5" font-weight="normal" stroke="#dbe7f5" stroke-width="0.1" >16.7%</text>
<text x="452.60" y="750.80" font-size="8.1" text-anchor="middle" fill="#dbe7f5" font-weight="normal" stroke="#dbe7f5" stroke-width="0.1" >N = 1</text>
<rect x="473.80" y="706.90" width="34.60" height="88.00" fill="#f18e00"/>
<text x="491.10" y="740.80" font-size="8.1" text-anchor="middle" fill="#632c00" font-weight="normal" stroke="#632c00" stroke-width="0.08" >16.7%</text>
<text x="491.10" y="750.80" font-size="8.1" text-anchor="middle" fill="#632c00" font-weight="normal" stroke="#632c00" stroke-width="0.08" >N = 1</text>
<line x1="391.60" y1="703.30" x2="391.60" y2="795.50" stroke="#111" stroke-width="1.3"/>
<line x1="391.00" y1="794.90" x2="511.30" y2="794.90" stroke="#111" stroke-width="1.3"/>
<line x1="387.70" y1="794.90" x2="391.60" y2="794.90" stroke="#111" stroke-width="1.3"/>
<text x="0" y="0" transform="translate(383.70,798.40) scale(1.0,1.06)" font-size="9.6" text-anchor="end" fill="#1a1a1a" font-weight="normal" stroke="#1a1a1a" stroke-width="0.05" >0</text>
<line x1="387.70" y1="765.57" x2="391.60" y2="765.57" stroke="#111" stroke-width="1.3"/>
<text x="0" y="0" transform="translate(383.70,769.07) scale(1.0,1.06)" font-size="9.6" text-anchor="end" fill="#1a1a1a" font-weight="normal" stroke="#1a1a1a" stroke-width="0.05" >5</text>
<line x1="387.70" y1="736.23" x2="391.60" y2="736.23" stroke="#111" stroke-width="1.3"/>
<text x="0" y="0" transform="translate(383.70,739.73) scale(1.0,1.06)" font-size="9.6" text-anchor="end" fill="#1a1a1a" font-weight="normal" stroke="#1a1a1a" stroke-width="0.05" >10</text>
<line x1="387.70" y1="706.90" x2="391.60" y2="706.90" stroke="#111" stroke-width="1.3"/>
<text x="0" y="0" transform="translate(383.70,710.40) scale(1.0,1.06)" font-size="9.6" text-anchor="end" fill="#1a1a1a" font-weight="normal" stroke="#1a1a1a" stroke-width="0.05" >15</text>
<text x="0" y="0" transform="translate(413.90,807.80) scale(1.0,1.03)" font-size="9.8" text-anchor="middle" fill="#1a1a1a" font-weight="normal" stroke="#1a1a1a" stroke-width="0.05" >AMP+</text>
<text x="0" y="0" transform="translate(452.60,807.80) scale(1.0,1.03)" font-size="9.8" text-anchor="middle" fill="#1a1a1a" font-weight="normal" stroke="#1a1a1a" stroke-width="0.05" >AMP</text>
<text x="0" y="0" transform="translate(491.10,807.80) scale(1.0,1.03)" font-size="9.8" text-anchor="middle" fill="#1a1a1a" font-weight="normal" stroke="#1a1a1a" stroke-width="0.05" >CBA</text>
<text x="0" y="0" transform="translate(413.90,819.70) scale(1.0,1.03)" font-size="9.8" text-anchor="middle" fill="#1a1a1a" font-weight="normal" stroke="#1a1a1a" stroke-width="0.05" >CBA</text>
<text x="452.10" y="696.60" font-size="9.8" text-anchor="middle" fill="#1a1a1a" font-weight="normal" >OTHER (N = 6)</text>
<text x="0" y="0" font-size="11.5" fill="#1a1a1a" stroke="#1a1a1a" stroke-width="0.4" transform="translate(33.4,650.6) rotate(-90)" textLength="108" lengthAdjust="spacingAndGlyphs">Percentage of Tier 1 or 2 (%)</text>
<text x="283.50" y="835.70" font-size="11.5" text-anchor="start" fill="#1a1a1a" font-weight="normal" stroke="#1a1a1a" stroke-width="0.3" textLength="20.6" lengthAdjust="spacingAndGlyphs">Assay</text>
<rect x="0.5" y="0.5" width="519" height="845" fill="none" stroke="#3d3d3d" stroke-width="1"/>
</svg></body></html>
